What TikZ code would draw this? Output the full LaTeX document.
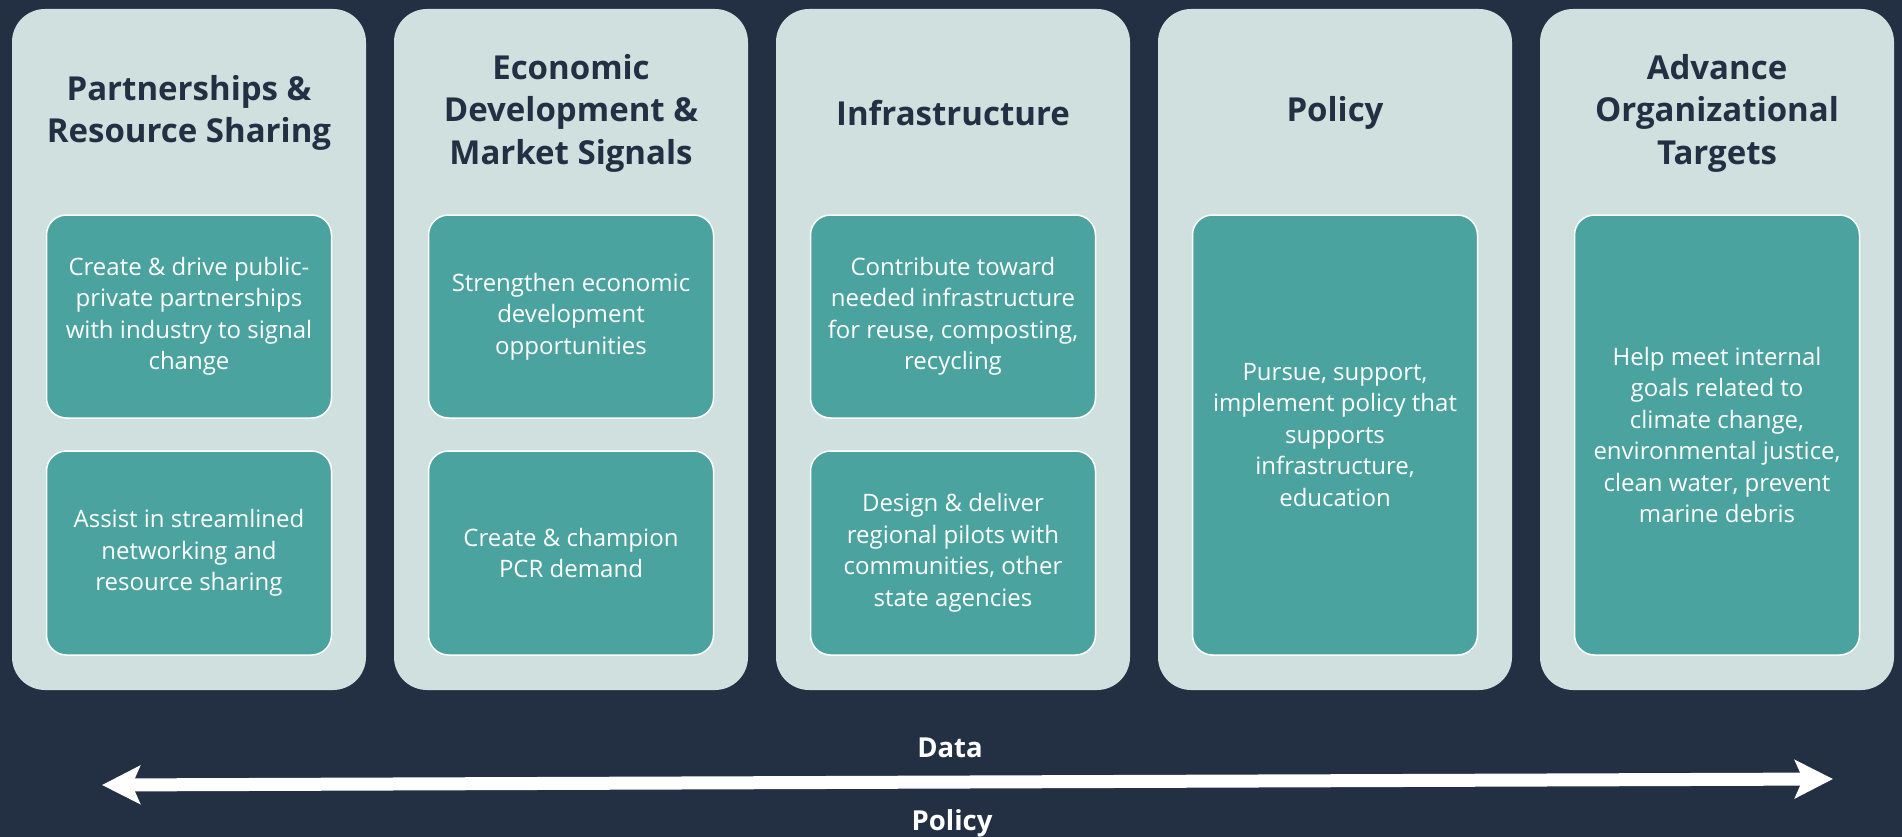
\documentclass[tikz,border=0pt]{standalone}
\usepackage{fontspec}
\setmainfont{Open Sans}
\usetikzlibrary{arrows.meta}
\definecolor{navy}{HTML}{232F43}
\definecolor{pale}{HTML}{D0E0DF}
\definecolor{cardteal}{HTML}{4BA3A0}

\tikzset{
  column/.style={fill=pale, rounded corners=33pt, minimum width=354pt, minimum height=681pt, inner sep=0pt},
  card/.style={fill=cardteal, draw=white, line width=1.5pt, rounded corners=20pt, minimum width=285pt, inner sep=0pt, text=white, align=center, font=\fontsize{24}{31.5}\selectfont},
  heading/.style={text=navy, align=center, font=\bfseries\fontsize{33}{42.5}\selectfont},
  flow/.style={white, line width=13pt, {Stealth[length=38pt,width=38pt,inset=8pt]}-{Stealth[length=38pt,width=38pt,inset=8pt]}},
  flowlabel/.style={text=white, anchor=base, font=\bfseries\fontsize{27.5}{32}\selectfont}
}

\begin{document}
\begin{tikzpicture}[x=1pt,y=-1pt]
	\useasboundingbox (0,0) rectangle (1902,837);
	\fill[navy] (0,0) rectangle (1902,837);
	% partnerships
	\node[column] (c1) at (189,349.5) {};
	\node[heading] (t1) at (189,113) {Partnerships \&\\Resource Sharing};
	\node[card, minimum height=203pt] (a1) at (189,316.5) {Create \& drive public-\\private partnerships\\with industry to signal\\change};
	\node[card, minimum height=204pt] (b1) at (189,553) {Assist in streamlined\\networking and\\resource sharing};
	% economic development
	\node[column] (c2) at (571,349.5) {};
	\node[heading] (t2) at (571,113) {Economic\\Development \&\\Market Signals};
	\node[card, minimum height=203pt] (a2) at (571,316.5) {Strengthen economic\\development\\opportunities};
	\node[card, minimum height=204pt] (b2) at (571,553) {Create \& champion\\PCR demand};
	% infrastructure
	\node[column] (c3) at (953,349.5) {};
	\node[heading] (t3) at (953,113) {Infrastructure};
	\node[card, minimum height=203pt] (a3) at (953,316.5) {Contribute toward\\needed infrastructure\\for reuse, composting,\\recycling};
	\node[card, minimum height=204pt] (b3) at (953,553) {Design \& deliver\\regional pilots with\\communities, other\\state agencies};
	% policy
	\node[column] (c4) at (1335,349.5) {};
	\node[heading] (t4) at (1335,113) {Policy};
	\node[card, minimum height=440pt] (a4) at (1335,435) {Pursue, support,\\implement policy that\\supports\\infrastructure,\\education};
	% targets
	\node[column] (c5) at (1717,349.5) {};
	\node[heading] (t5) at (1717,113) {Advance\\Organizational\\Targets};
	\node[card, minimum height=440pt] (a5) at (1717,435) {Help meet internal\\goals related to\\climate change,\\environmental justice,\\clean water, prevent\\marine debris};
	% data / policy arrow
	\coordinate (left) at (102,785);
	\coordinate (right) at (1833,779);
	\draw[flow] (left) -- (right);
	\node[flowlabel] (data) at (950,757) {Data};
	\node[flowlabel] (pol) at (952,830) {Policy};
\end{tikzpicture}
\end{document}
